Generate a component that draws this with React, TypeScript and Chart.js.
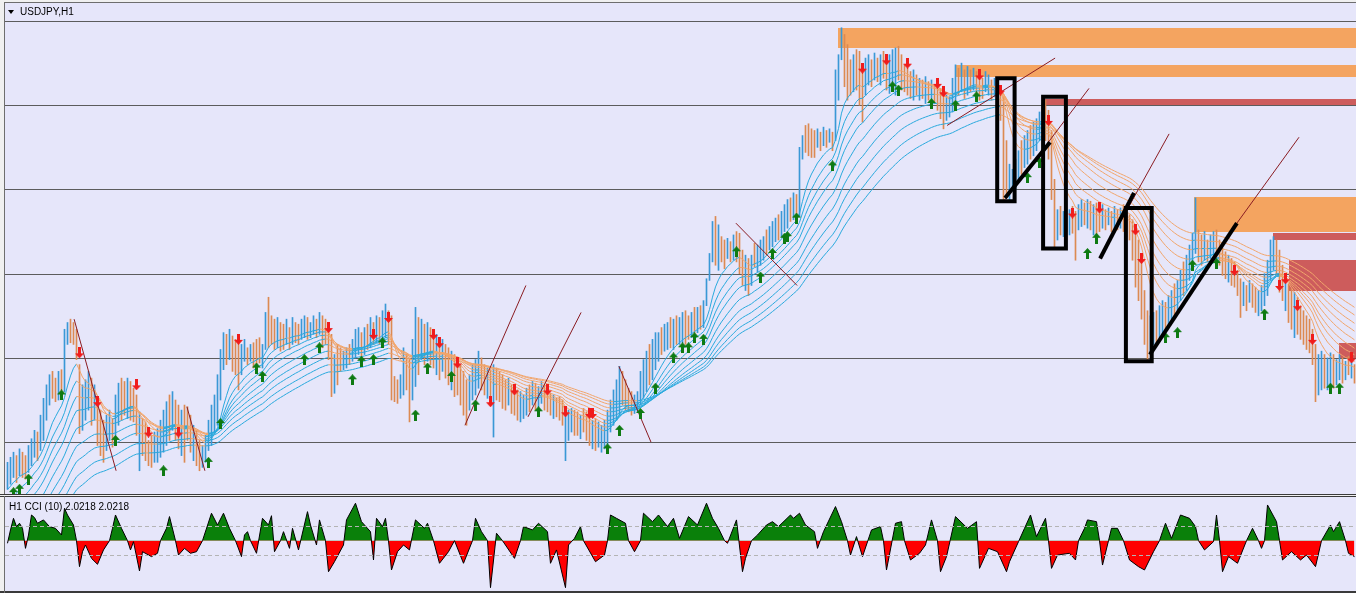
import React, { useEffect, useRef } from "react";
import { Chart, registerables } from "chart.js";

Chart.register(...registerables);

// ---------- price bars (USDJPY H1), one entry per bar ----------
const barHighs: number[] = [
  107.88,107.91,107.94,107.92,107.96,107.94,107.92,107.98,108.02,108.07,
  108.06,108.16,108.26,108.34,108.40,108.42,108.38,108.42,108.43,108.67,
  108.71,108.73,108.71,108.67,108.46,108.34,108.37,108.42,108.38,108.34,
  108.22,108.19,108.13,108.16,108.19,108.14,108.28,108.35,108.38,108.36,
  108.38,108.36,108.32,108.28,108.18,108.14,108.12,108.01,108.04,108.06,
  108.08,108.13,108.19,108.24,108.28,108.30,108.25,108.22,108.19,108.22,
  108.21,108.16,108.10,108.07,108.01,107.98,108.04,108.13,108.22,108.28,
  108.40,108.55,108.65,108.64,108.67,108.63,108.61,108.62,108.58,108.61,
  108.56,108.58,108.59,108.61,108.62,108.58,108.77,108.86,108.75,108.73,
  108.74,108.71,108.70,108.73,108.68,108.74,108.71,108.70,108.73,108.75,
  108.74,108.71,108.75,108.73,108.77,108.75,108.73,108.70,108.64,108.52,
  108.58,108.56,108.54,108.56,108.58,108.61,108.67,108.68,108.65,108.68,
  108.70,108.74,108.71,108.75,108.74,108.78,108.82,108.78,108.75,108.39,
  108.37,108.40,108.56,108.52,108.50,108.61,108.80,108.74,108.73,108.70,
  108.71,108.68,108.67,108.64,108.62,108.61,108.58,108.56,108.54,108.52,
  108.50,108.46,108.42,108.37,108.40,108.46,108.49,108.54,108.50,108.46,
  108.44,108.43,108.46,108.44,108.42,108.40,108.37,108.38,108.34,108.32,
  108.31,108.30,108.28,108.32,108.34,108.36,108.35,108.33,108.36,108.34,
  108.32,108.29,108.28,108.26,108.27,108.25,108.17,108.19,108.20,108.19,
  108.18,108.16,108.20,108.18,108.14,108.13,108.14,108.12,108.10,108.13,
  108.19,108.25,108.31,108.37,108.45,108.42,108.37,108.32,108.30,108.28,
  108.30,108.42,108.49,108.54,108.58,108.61,108.65,108.65,108.68,108.70,
  108.71,108.74,108.73,108.75,108.74,108.77,108.78,108.75,108.77,108.80,
  108.80,108.81,108.84,108.97,109.12,109.31,109.34,109.29,109.22,109.20,
  109.21,109.19,109.23,109.25,109.24,109.14,109.11,109.09,109.11,109.18,
  109.17,109.20,109.22,109.26,109.28,109.31,109.33,109.35,109.37,109.41,
  109.44,109.45,109.48,109.47,109.75,109.82,109.88,109.89,109.86,109.85,
  109.86,109.84,109.87,109.85,109.86,109.84,110.21,110.30,110.46,110.42,
  110.36,110.27,110.30,110.33,110.32,110.21,110.28,110.30,110.27,110.31,
  110.28,110.30,110.32,110.29,110.30,110.33,110.34,110.35,110.30,110.24,
  110.22,110.20,110.21,110.18,110.16,110.15,110.17,110.14,110.15,110.12,
  110.12,110.10,110.09,110.06,110.05,110.16,110.24,110.22,110.25,110.21,
  110.23,110.21,110.22,110.20,110.18,110.16,110.20,110.18,110.15,110.16,
  110.14,110.11,110.05,109.79,109.65,109.62,109.68,109.73,109.79,109.82,
  109.85,109.88,109.90,109.92,109.96,110.01,110.03,109.97,109.85,109.56,
  109.38,109.40,109.37,109.39,109.38,109.40,109.37,109.41,109.44,109.42,
  109.44,109.43,109.41,109.42,109.40,109.41,109.38,109.39,109.37,109.40,
  109.38,109.39,109.41,109.38,109.35,109.32,109.23,109.20,109.11,108.90,
  108.78,108.75,108.77,108.78,108.81,108.84,108.83,108.87,108.90,108.94,
  108.96,109.02,109.07,109.11,109.17,109.24,109.45,109.26,109.23,109.25,
  109.20,109.23,109.25,109.26,109.20,109.15,109.13,109.11,109.09,109.07,
  109.02,108.97,108.95,108.93,108.96,108.94,108.92,108.90,108.93,109.00,
  109.08,109.20,109.22,109.20,109.14,109.05,108.99,108.94,108.91,108.89,
  108.86,108.81,108.78,108.75,108.73,108.67,108.58,108.52,108.54,108.52,
  108.50,108.53,108.52,108.49,108.52,108.50,108.48,108.51,108.49,108.46,
];

const barLows: number[] = [
  107.72,107.75,107.79,107.76,107.80,107.79,107.78,107.82,107.86,107.91,
  107.89,107.95,108.01,108.13,108.22,108.26,108.24,108.25,108.28,108.30,
  108.58,108.59,108.58,108.49,108.05,108.07,108.13,108.19,108.10,108.13,
  107.98,107.92,107.88,107.95,108.01,107.97,108.04,108.10,108.13,108.16,
  108.14,108.13,108.12,108.04,107.83,107.92,107.89,107.86,107.85,107.88,
  107.88,107.91,107.94,107.98,108.01,108.07,108.01,107.96,107.92,107.88,
  108.01,107.94,107.89,107.86,107.83,107.85,107.88,107.95,107.98,108.06,
  108.10,108.25,108.43,108.46,108.49,108.42,108.40,108.31,108.40,108.48,
  108.46,108.48,108.44,108.46,108.47,108.44,108.55,108.56,108.58,108.55,
  108.56,108.54,108.55,108.58,108.55,108.58,108.59,108.58,108.61,108.62,
  108.61,108.62,108.64,108.62,108.64,108.56,108.58,108.49,108.27,108.29,
  108.34,108.42,108.43,108.44,108.46,108.48,108.50,108.52,108.49,108.52,
  108.55,108.56,108.58,108.59,108.58,108.61,108.62,108.58,108.25,108.24,
  108.23,108.26,108.28,108.31,108.12,108.25,108.33,108.40,108.49,108.46,
  108.48,108.46,108.44,108.40,108.37,108.42,108.38,108.34,108.31,108.27,
  108.28,108.22,108.16,108.10,108.19,108.25,108.28,108.32,108.31,108.28,
  108.26,108.22,108.03,108.25,108.24,108.20,108.19,108.22,108.17,108.16,
  108.13,108.12,108.14,108.16,108.18,108.22,108.19,108.20,108.23,108.19,
  108.18,108.16,108.14,108.15,108.13,108.10,107.89,108.01,108.06,108.04,
  108.04,108.02,108.06,108.01,107.98,107.96,107.95,107.97,107.94,107.96,
  107.98,108.06,108.10,108.13,108.16,108.22,108.19,108.18,108.16,108.17,
  108.18,108.22,108.26,108.30,108.34,108.37,108.43,108.48,108.52,108.54,
  108.55,108.56,108.55,108.58,108.58,108.59,108.58,108.61,108.62,108.64,
  108.65,108.67,108.68,108.81,108.96,109.07,109.05,109.02,109.07,109.03,
  109.09,109.07,109.08,109.07,109.00,108.93,108.90,108.87,108.93,109.04,
  109.01,109.05,109.08,109.11,109.14,109.16,109.19,109.20,109.22,109.25,
  109.27,109.31,109.32,109.33,109.34,109.68,109.72,109.70,109.69,109.69,
  109.75,109.73,109.76,109.75,109.78,109.73,109.79,110.03,110.27,110.11,
  110.03,110.06,110.08,110.09,110.00,109.90,110.06,110.12,110.11,110.15,
  110.14,110.12,110.16,110.09,110.07,110.12,110.06,110.15,110.09,110.08,
  110.06,110.04,110.03,110.06,110.03,110.04,110.01,110.03,110.04,110.01,
  109.97,109.92,109.86,109.91,109.93,109.96,110.03,110.06,110.08,110.04,
  110.06,110.08,110.09,110.05,110.03,110.04,110.08,110.06,110.03,110.05,
  110.03,109.91,109.44,109.47,109.44,109.49,109.50,109.54,109.59,109.63,
  109.65,109.68,109.70,109.73,109.79,109.84,109.79,109.68,109.44,109.16,
  109.20,109.23,109.22,109.25,109.23,109.24,109.08,109.26,109.28,109.29,
  109.27,109.26,109.23,109.22,109.25,109.27,109.26,109.29,109.25,109.27,
  109.26,109.27,109.25,109.22,109.20,109.08,108.92,108.84,108.73,108.58,
  108.49,108.52,108.58,108.59,108.62,108.64,108.67,108.70,108.73,108.75,
  108.78,108.84,108.87,108.90,108.96,109.04,109.12,109.07,109.05,109.08,
  109.07,109.09,109.11,109.07,109.05,108.99,108.97,108.95,108.93,108.92,
  108.87,108.74,108.81,108.78,108.83,108.80,108.77,108.75,108.78,108.81,
  108.87,108.96,109.02,108.99,108.89,108.84,108.78,108.71,108.67,108.62,
  108.64,108.61,108.58,108.55,108.53,108.46,108.24,108.28,108.31,108.32,
  108.31,108.34,108.32,108.34,108.37,108.35,108.37,108.40,108.38,108.35,
];

// u = bullish bar (blue), d = bearish bar (orange)
const barDirections: string[] = [
  "uuududduuu","duuuuddudu","udddduuudu","ddduuduudd","uddduddddu",
  "uuuududdud","ddudduuuuu","uuududdduu","duddduuddd","uddududduu",
  "duududdddu","dduuduuudu","dududuuddd","duudduudud","uddududdud",
  "dddduuuudd","ududdddudd","duuududuud","dduddduuud","duddduduuu",
  "uuuuuddddu","uuuuduuudu","ududuuddud","uduuuududd","ududddudud",
  "uuuduuuduu","ududuudddd","udududuuud","dduddduudu","dudduuuddd",
  "ddudududud","ddduuuudud","ududdduudu","dddduuuudu","uduuuudddd",
  "udududduud","ududdududu","dudddddddd","duuduuduud","uuduuuuddu",
  "duuddddudd","ddududduuu","uuuddduddu","ddddddduud","uuduududud",
];

// moving-average ribbon: periods and their levels just before the first bar
const emaPeriods: number[] = [10, 15, 20, 25, 32, 40, 48, 57, 66];
const emaStartLevels: number[] = [107.70, 107.60, 107.52, 107.45, 107.38, 107.32, 107.27, 107.22, 107.18];
const priceGridLevels: number[] = [110.5, 110.0, 109.5, 109.0, 108.5, 108.0];
const priceRange: number[] = [107.692, 110.607];
const barRange: number[] = [-0.8333, 449.5];

// [bar, price]
const sellSignals: [number, number][] = [
  [24,108.53],[30,108.24],[43,108.34],[47,108.06],[57,108.06],[77,108.61],[107,108.68],
  [122,108.64],[127,108.74],[142,108.64],[144,108.59],[150,108.47],[161,108.24],[169,108.31],
  [180,108.31],[186,108.18],[194,108.17],[195,108.17],[285,110.22],[293,110.27],[300,110.25],
  [310,110.13],[312,110.08],[324,110.18],[331,110.09],[347,109.91],[355,109.36],[364,109.39],
  [376,109.26],[378,109.09],[409,109.02],[424,108.93],[426,108.97],[430,108.81],[435,108.61],
  [448,108.50],
];
const buySignals: [number, number][] = [
  [2,107.70],[4,107.72],[7,107.78],[18,108.28],[36,108.01],[52,107.83],[67,107.88],[71,108.11],
  [83,108.44],[85,108.39],[99,108.49],[104,108.56],[115,108.37],[118,108.48],[122,108.49],
  [125,108.59],[136,108.16],[140,108.44],[148,108.39],[156,108.22],[177,108.18],[200,107.96],
  [204,108.07],[211,108.17],[216,108.32],[222,108.50],[225,108.56],[227,108.56],[229,108.62],
  [232,108.61],[243,109.13],[251,108.98],[255,109.12],[259,109.21],[260,109.22],[263,109.33],
  [275,109.64],[295,110.11],[297,110.09],[308,110.01],[316,110.00],[323,110.05],[340,109.57],
  [344,109.66],[360,109.12],[363,109.21],[386,108.62],[390,108.65],[395,109.05],[403,109.06],
  [419,108.76],[441,108.32],[444,108.32],
];

// [fromBar, fromPrice, toBar, toPrice]
const thinTrendLines: [number, number, number, number][] = [
  [22.2,108.73,36.2,107.83],[59.8,108.21,65.8,107.83],[152.5,108.10,172.8,108.93],
  [173.5,108.15,191.2,108.77],[203.8,108.45,214.5,108.00],[242.8,109.30,263.2,108.93],
  [313.2,109.88,349.2,110.28],[332.5,109.44,360.5,110.10],[364.2,109.09,387.2,109.83],
  [409.8,109.30,430.5,109.81],
];
const thickTrendLines: [number, number, number, number][] = [
  [332.5,109.45,347.5,109.78],[364.2,109.09,375.5,109.48],[380.8,108.52,409.8,109.30],
];
// [fromBar, toBar, topPrice, bottomPrice]
const outlineBoxes: [number, number, number, number][] = [
  [329.9,335.7,110.16,109.43],[345.2,352.8,110.05,109.15],[372.8,381.4,109.39,108.48],
];
// [fromBar, topPrice, bottomPrice]
const supplyZones: [number, number, number][] = [
  [276.8,110.46,110.34],[315.8,110.24,110.17],[395.5,109.455,109.25],
];
const demandZones: [number, number, number][] = [
  [345.8,110.04,110.0],[421.8,109.24,109.20],[427.2,109.08,108.90],[443.8,108.59,108.50],
];

// CCI(10) samples: [bar, value]
const cciSamples: [number, number][] = [
  [0,-18],[1,74],[2,154],[3,97],[4,120],[5,85],[6,-53],[7,39],[8,177],[9,159],[10,120],[12,143],
  [14,97],[16,85],[18,39],[19,223],[20,177],[22,108],[23,0],[24,-179],[25,-76],[26,-30],[28,-122],
  [30,-163],[32,-64],[34,0],[35,85],[36,177],[38,85],[40,0],[41,-64],[42,-7],[44,-209],[45,-76],
  [48,-110],[50,-87],[51,0],[53,85],[54,166],[56,0],[57,-99],[59,-53],[61,-87],[63,-76],[65,0],
  [68,189],[70,108],[72,189],[74,85],[76,0],[78,-110],[79,39],[80,62],[81,0],[83,-87],[85,154],
  [87,108],[88,172],[89,-76],[91,0],[92,62],[94,-53],[95,85],[97,-64],[100,200],[101,108],
  [103,-30],[104,143],[106,0],[107,-214],[109,-145],[112,-30],[113,143],[116,258],[118,131],
  [121,62],[122,-133],[123,154],[125,97],[126,154],[127,0],[128,-202],[130,-76],[132,-30],
  [134,-64],[136,143],[139,85],[140,120],[142,0],[144,-156],[147,-76],[149,0],[152,-156],[155,0],
  [156,154],[158,62],[160,0],[161,-324],[163,51],[165,0],[169,-122],[171,0],[172,97],[175,74],
  [177,120],[180,62],[181,-156],[183,-64],[186,-324],[187,-30],[189,16],[191,97],[192,0],
  [196,-145],[199,-99],[200,0],[201,177],[203,154],[206,120],[207,0],[209,-76],[211,0],[212,189],
  [215,131],[217,177],[220,97],[222,154],[224,16],[227,166],[230,108],[233,258],[235,154],
  [237,85],[239,0],[240,-18],[243,143],[245,-214],[246,-122],[248,0],[250,39],[253,108],[255,131],
  [257,97],[261,177],[262,154],[264,189],[266,108],[269,62],[270,-53],[272,62],[276,235],
  [278,131],[280,0],[281,-99],[283,28],[285,-110],[288,74],[291,97],[292,0],[293,-202],[296,120],
  [298,131],[299,0],[301,-133],[304,-87],[306,-30],[308,143],[310,0],[311,-214],[313,-110],
  [316,166],[320,85],[323,131],[324,-191],[327,-53],[330,-76],[333,-214],[334,-145],[337,-7],
  [339,85],[341,177],[343,28],[346,154],[347,0],[348,-191],[350,-99],[354,-87],[356,-133],
  [357,0],[359,85],[360,143],[363,131],[364,0],[365,-168],[367,0],[368,85],[370,85],[372,0],
  [374,-133],[377,-179],[379,-202],[382,-76],[384,0],[385,62],[386,120],[388,16],[391,177],
  [394,154],[396,97],[397,0],[399,-64],[402,-7],[403,177],[404,0],[405,-214],[407,-110],
  [410,-156],[413,0],[415,85],[417,0],[418,-53],[419,0],[420,246],[423,131],[424,0],[425,-133],
  [428,-76],[431,-133],[433,-99],[436,-179],[438,0],[441,108],[442,62],[444,131],[446,0],
  [447,-87],[449,-110],
];
const cciLevels: number[] = [100, -100];
const cciRange: number[] = [-347, 301];

// ---------- styles ----------
const BG = "#e6e6fa";
const OUTER = "#f0f0f0";
const FRAME = "#6e6e6e";
const GRID = "#5c5c5c";
const BAR_UP = "#3a98d6";
const BAR_DOWN = "#dc8a52";
const MA_UP = "#2aaade";
const MA_DOWN = "#f2a66c";
const TREND = "#8a1c22";
const ZONE_SUPPLY = "#f4a460";
const ZONE_DEMAND = "#cd5c5c";

function ema(values: number[], n: number, start: number): number[] {
  const k = 2 / (n + 1);
  const out: number[] = [];
  let prev = start;
  values.forEach((v) => {
    prev = prev + k * (v - prev);
    out.push(prev);
  });
  return out;
}

function makeArrow(up: boolean, color: string): HTMLCanvasElement {
  const c = document.createElement("canvas");
  c.width = 9;
  c.height = 11;
  const g = c.getContext("2d")!;
  g.fillStyle = color;
  g.beginPath();
  if (up) {
    g.moveTo(4.5, 0); g.lineTo(9, 5); g.lineTo(6, 5); g.lineTo(6, 11);
    g.lineTo(3, 11); g.lineTo(3, 5); g.lineTo(0, 5);
  } else {
    g.moveTo(4.5, 11); g.lineTo(9, 6); g.lineTo(6, 6); g.lineTo(6, 0);
    g.lineTo(3, 0); g.lineTo(3, 6); g.lineTo(0, 6);
  }
  g.closePath();
  g.fill();
  return c;
}

export default function App() {
  const mainRef = useRef<HTMLCanvasElement>(null);
  const cciRef = useRef<HTMLCanvasElement>(null);

  useEffect(() => {
    document.body.style.margin = "0";
    const dirs = barDirections.join("");
    const medians = barHighs.map((h, i) => (h + barLows[i]) / 2);
    const upImg = makeArrow(true, "#0e7a12");
    const downImg = makeArrow(false, "#f01c1c");

    const mainBackground = {
      id: "mainBackground",
      beforeDraw(chart: any) {
        const { ctx, chartArea: a, scales } = chart;
        ctx.save();
        ctx.fillStyle = OUTER;
        ctx.fillRect(0, 0, chart.width, chart.height);
        ctx.fillStyle = BG;
        ctx.fillRect(a.left, a.top, a.right - a.left, a.bottom - a.top);
        ctx.fillStyle = FRAME;
        ctx.fillRect(a.left - 1, a.top - 1, chart.width, 1);
        ctx.fillRect(a.left - 1, a.top - 1, 1, a.bottom - a.top + 1);
        ctx.fillStyle = "#3a3a3a";
        ctx.fillRect(0, a.bottom, chart.width, 1);
        ctx.fillStyle = GRID;
        priceGridLevels.forEach((lv) => {
          const y = Math.round(scales.y.getPixelForValue(lv));
          ctx.fillRect(a.left, y, a.right - a.left, 1);
        });
        ctx.restore();
      },
      beforeDatasetsDraw(chart: any) {
        const { ctx, chartArea: a, scales } = chart;
        ctx.save();
        ctx.beginPath();
        ctx.rect(a.left, a.top, a.right - a.left, a.bottom - a.top);
        ctx.clip();
        const drawZone = (z: [number, number, number], color: string) => {
          const x0 = Math.round(scales.x.getPixelForValue(z[0]));
          const x1 = a.right;
          const y0 = Math.round(scales.y.getPixelForValue(z[1]));
          const y1 = Math.round(scales.y.getPixelForValue(z[2]));
          ctx.fillStyle = color;
          ctx.fillRect(x0, y0, x1 - x0, y1 - y0);
        };
        supplyZones.forEach((z) => drawZone(z, ZONE_SUPPLY));
        demandZones.forEach((z) => drawZone(z, ZONE_DEMAND));
        ctx.restore();
      },
    };

    const datasets: any[] = [];
    datasets.push({
      type: "bar",
      data: barHighs.map((h, i) => ({ x: i, y: [barLows[i], h] })),
      backgroundColor: barHighs.map((_, i) => (dirs[i] === "u" ? BAR_UP : BAR_DOWN)),
      barThickness: 1,
      borderWidth: 0,
      order: 6,
    });
    emaPeriods.forEach((n, k) => {
      const line = ema(medians, n, emaStartLevels[k]);
      datasets.push({
        type: "line",
        data: line.map((v, i) => ({ x: i, y: v })),
        borderWidth: 1,
        borderColor: MA_UP,
        pointRadius: 0,
        tension: 0,
        fill: false,
        order: 5,
        segment: {
          borderColor: (c: any) => (c.p1.parsed.y >= c.p0.parsed.y ? MA_UP : MA_DOWN),
        },
      });
    });
    thinTrendLines.forEach((t) => {
      datasets.push({
        type: "line",
        data: [{ x: t[0], y: t[1] }, { x: t[2], y: t[3] }],
        borderColor: TREND,
        borderWidth: 1,
        pointRadius: 0,
        fill: false,
        order: 3,
      });
    });
    thickTrendLines.forEach((t) => {
      datasets.push({
        type: "line",
        data: [{ x: t[0], y: t[1] }, { x: t[2], y: t[3] }],
        borderColor: "#000000",
        borderWidth: 4,
        borderCapStyle: "butt",
        pointRadius: 0,
        fill: false,
        order: 1,
      });
    });
    outlineBoxes.forEach((b) => {
      datasets.push({
        type: "line",
        data: [
          { x: b[0], y: b[2] }, { x: b[1], y: b[2] }, { x: b[1], y: b[3] },
          { x: b[0], y: b[3] }, { x: b[0], y: b[2] },
        ],
        borderColor: "#000000",
        borderWidth: 4,
        borderJoinStyle: "miter",
        borderCapStyle: "square",
        pointRadius: 0,
        fill: false,
        order: 1,
      });
    });
    datasets.push({
      type: "line",
      showLine: false,
      data: sellSignals.map((s) => ({ x: s[0], y: s[1] })),
      pointStyle: downImg,
      pointRadius: 5,
      order: 2,
    });
    datasets.push({
      type: "line",
      showLine: false,
      data: buySignals.map((s) => ({ x: s[0], y: s[1] })),
      pointStyle: upImg,
      pointRadius: 5,
      order: 2,
    });

    const main = new Chart(mainRef.current!, {
      type: "bar",
      data: { datasets },
      options: {
        responsive: false,
        animation: false,
        devicePixelRatio: 1,
        events: [],
        layout: { autoPadding: false, padding: { left: 5, top: 3, right: 0, bottom: 1 } },
        plugins: { legend: { display: false }, tooltip: { enabled: false } },
        scales: {
          x: { type: "linear", min: barRange[0], max: barRange[1], offset: false, display: false },
          y: { type: "linear", min: priceRange[0], max: priceRange[1], display: false },
        },
      } as any,
      plugins: [mainBackground],
    });

    const cciBackground = {
      id: "cciBackground",
      beforeDraw(chart: any) {
        const { ctx, chartArea: a } = chart;
        ctx.save();
        ctx.fillStyle = OUTER;
        ctx.fillRect(0, 0, chart.width, chart.height);
        ctx.fillStyle = BG;
        ctx.fillRect(a.left, a.top, a.right - a.left, a.bottom - a.top);
        ctx.fillStyle = "#3a3a3a";
        ctx.fillRect(0, 0, chart.width, 1);
        ctx.fillRect(0, a.bottom, chart.width, 2);
        ctx.fillStyle = FRAME;
        ctx.fillRect(a.left - 1, 0, 1, chart.height);
        ctx.restore();
      },
      afterDatasetsDraw(chart: any) {
        const { ctx, chartArea: a, scales } = chart;
        ctx.save();
        ctx.strokeStyle = "#b4b4b4";
        ctx.lineWidth = 1;
        ctx.setLineDash([4, 3]);
        cciLevels.forEach((lv) => {
          const y = Math.round(scales.y.getPixelForValue(lv)) + 0.5;
          ctx.beginPath();
          ctx.moveTo(a.left, y);
          ctx.lineTo(a.right, y);
          ctx.stroke();
        });
        ctx.restore();
      },
    };

    const cci = new Chart(cciRef.current!, {
      type: "line",
      data: {
        datasets: [
          {
            data: cciSamples.map((s) => ({ x: s[0], y: s[1] })),
            borderColor: "#000000",
            borderWidth: 1,
            pointRadius: 0,
            tension: 0,
            fill: { target: { value: 0 }, above: "#0a800a", below: "#ff0000" },
          },
        ],
      },
      options: {
        responsive: false,
        animation: false,
        devicePixelRatio: 1,
        events: [],
        layout: { autoPadding: false, padding: { left: 5, top: 1, right: 0, bottom: 2 } },
        plugins: { legend: { display: false }, tooltip: { enabled: false } },
        scales: {
          x: { type: "linear", min: barRange[0], max: barRange[1], offset: false, display: false },
          y: { type: "linear", min: cciRange[0], max: cciRange[1], display: false },
        },
      } as any,
      plugins: [cciBackground],
    });

    return () => {
      main.destroy();
      cci.destroy();
    };
  }, []);

  const labelStyle: React.CSSProperties = {
    position: "absolute",
    fontFamily: "'Liberation Sans', Arial, sans-serif",
    fontSize: 10,
    lineHeight: "12px",
    color: "#000",
    whiteSpace: "nowrap",
  };

  return (
    <div
      style={{
        position: "fixed",
        left: 0,
        top: 0,
        width: 1356,
        height: 593,
        background: OUTER,
        overflow: "hidden",
      }}
    >
      <canvas
        ref={mainRef}
        width={1356}
        height={495}
        style={{ position: "absolute", left: 0, top: 0, width: 1356, height: 495 }}
      />
      <canvas
        ref={cciRef}
        width={1356}
        height={97}
        style={{ position: "absolute", left: 0, top: 496, width: 1356, height: 97 }}
      />
      <div
        style={{
          position: "absolute",
          left: 8,
          top: 10,
          width: 0,
          height: 0,
          borderLeft: "3.5px solid transparent",
          borderRight: "3.5px solid transparent",
          borderTop: "4px solid #000",
        }}
      />
      <div style={{ ...labelStyle, left: 20, top: 6 }}>USDJPY,H1</div>
      <div style={{ ...labelStyle, left: 9, top: 501 }}>H1 CCI (10) 2.0218 2.0218</div>
    </div>
  );
}
